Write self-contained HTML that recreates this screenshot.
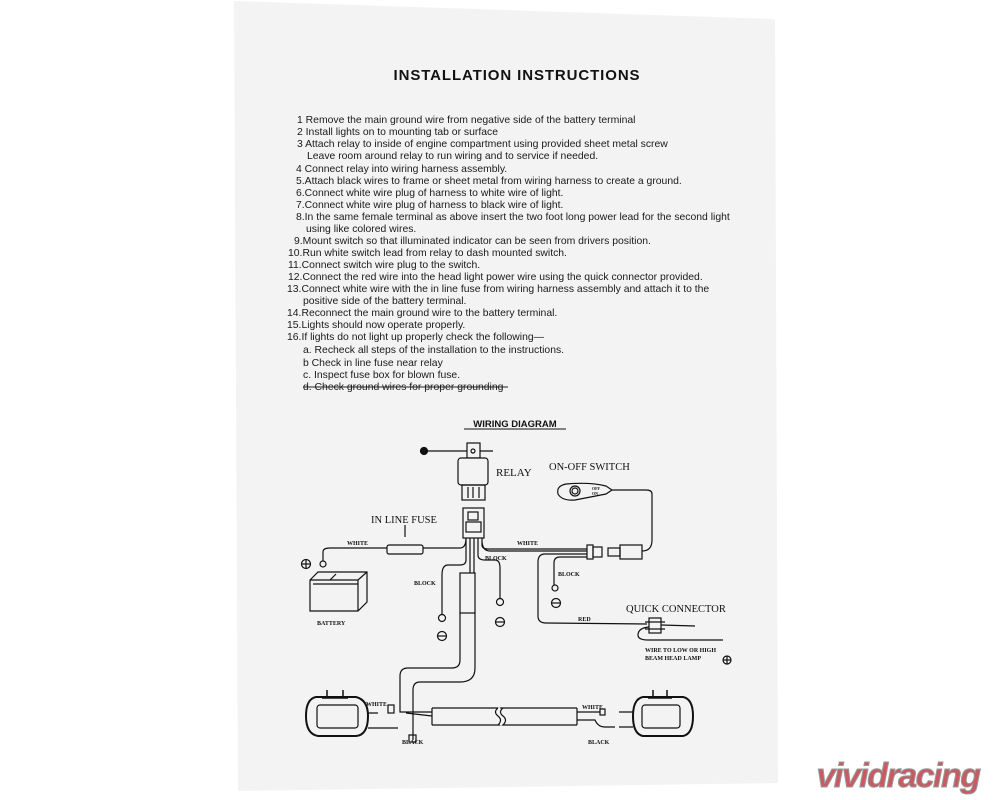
<!DOCTYPE html>
<html><head><meta charset="utf-8"><style>
html,body{margin:0;padding:0;background:#fff;width:1000px;height:800px;overflow:hidden}
svg{display:block}
.t{font-family:"Liberation Sans",Arial,sans-serif;font-size:10.4px;fill:#1a1a1a}
.s{font-family:"Liberation Serif",serif;fill:#111}
.b{font-family:"Liberation Serif",serif;font-weight:bold;font-size:6px;fill:#111}
</style></head><body>
<svg width="1000" height="800" viewBox="0 0 1000 800" xmlns="http://www.w3.org/2000/svg">
<polygon points="234,1 775,19 778,783 238,791" fill="#f3f3f3"/>
<text x="517" y="80" text-anchor="middle" style="font-family:'Liberation Sans',sans-serif;font-weight:bold;font-size:15px;letter-spacing:0.9px;fill:#111">INSTALLATION INSTRUCTIONS</text>
<g class="t">
<text x="297" y="123">1 Remove the main ground wire from negative side of the battery terminal</text>
<text x="297" y="135">2 Install lights on to mounting tab or surface</text>
<text x="297" y="147">3 Attach relay to inside of engine compartment using provided sheet metal screw</text>
<text x="307" y="159">Leave room around relay to run wiring and to service if needed.</text>
<text x="296" y="172">4 Connect relay into wiring harness assembly.</text>
<text x="296" y="184">5.Attach black wires to frame or sheet metal from wiring harness to create a ground.</text>
<text x="296" y="196">6.Connect white wire plug of harness to white wire of light.</text>
<text x="296" y="208">7.Connect white wire plug of harness to black wire of light.</text>
<text x="296" y="220">8.In the same female terminal as above insert the two foot long power lead for the second light</text>
<text x="306" y="232">using like colored wires.</text>
<text x="294" y="244">9.Mount switch so that illuminated indicator can be seen from drivers position.</text>
<text x="288" y="256">10.Run white switch lead from relay to dash mounted switch.</text>
<text x="288" y="268">11.Connect switch wire plug to the switch.</text>
<text x="288" y="280">12.Connect the red wire into the head light power wire using the quick connector provided.</text>
<text x="287" y="292">13.Connect white wire with the in line fuse from wiring harness assembly and attach it to the</text>
<text x="303" y="304">positive side of the battery terminal.</text>
<text x="287" y="316">14.Reconnect the main ground wire to the battery terminal.</text>
<text x="287" y="328">15.Lights should now operate properly.</text>
<text x="287" y="340">16.If lights do not light up properly check the following—</text>
<text x="303" y="353">a. Recheck all steps of the installation to the instructions.</text>
<text x="303" y="366">b  Check in line fuse near relay</text>
<text x="303" y="378">c. Inspect fuse box for blown fuse.</text>
<text x="303" y="390">d. Check ground wires for proper grounding</text>
</g>
<line x1="303" y1="387" x2="508" y2="387" stroke="#222" stroke-width="1"/>
<text x="515" y="427" text-anchor="middle" style="font-family:'Liberation Sans',sans-serif;font-weight:bold;font-size:9.5px;fill:#111">WIRING DIAGRAM</text>
<line x1="464" y1="429" x2="566" y2="429" stroke="#111" stroke-width="1"/>
<g fill="none" stroke="#111" stroke-width="1.2">
<circle cx="424" cy="451" r="3.5" fill="#111"/>
<line x1="427" y1="451" x2="493" y2="451"/>
<rect x="467" y="443" width="13" height="15" fill="#f3f3f3"/>
<circle cx="473" cy="451" r="2"/>
<rect x="458" y="458" width="30" height="27" rx="3" fill="#f3f3f3"/>
<rect x="462" y="485" width="23" height="15"/>
<line x1="468" y1="487" x2="468" y2="498"/><line x1="473" y1="487" x2="473" y2="498"/><line x1="479" y1="487" x2="479" y2="498"/>
<rect x="463" y="508" width="21" height="30"/>
<rect x="468" y="512" width="10" height="8"/>
<rect x="466" y="522" width="15" height="10"/>
<line x1="405" y1="525" x2="405" y2="537"/>
<rect x="387" y="545" width="36" height="9" rx="2"/>
<path d="M323,561 L323,552 Q323,548 330,548 L387,548 M423,548 L460,548 Q466,548 466,538"/>
<circle cx="323" cy="564" r="3"/>
<path d="M310,580 L318,572 L367,572 L367,602 L358,611 L310,611 Z M310,580 L358,580 L367,572 M358,580 L358,611"/>
<path d="M313,584 L358,584 M336,574 L330,580"/>
<path d="M470,538 L470,573 M474,538 L474,573"/>
<rect x="460" y="573" width="15" height="40"/>
<path d="M460,613 L460,660 Q460,668 452,668 L408,668 Q400,668 400,676 L400,697 M475,613 L475,668 Q475,682 460,682 L420,682 Q413,682 413,690 L413,697"/>
<path d="M466,538 L466,560 Q466,565 460,565 L448,565 Q442,565 442,575 L442,614"/>
<circle cx="442" cy="618" r="3.5"/>
<circle cx="442" cy="636" r="4.5"/><line x1="438" y1="636" x2="446" y2="636"/>
<path d="M478,538 L478,555 Q478,560 485,560 L495,560 Q500,560 500,568 L500,598"/>
<circle cx="500" cy="602" r="3.5"/>
<circle cx="500" cy="622" r="4.5"/><line x1="496" y1="622" x2="504" y2="622"/>
<path d="M482,538 L482,545 Q482,549 488,549 L587,549 M482,540 Q482,551 490,551 L587,551"/>
<rect x="587" y="545" width="6" height="14"/><rect x="593" y="547" width="9" height="10"/>
<rect x="608" y="548" width="12" height="8"/><rect x="620" y="545" width="22" height="14"/>
<path d="M642,551 Q652,551 652,540 L652,494 Q652,490 646,490 L612,490"/>
<path d="M566,484 Q556,486 558,494 Q562,501 575,500 L606,494 L612,490 L606,486 Q590,482 566,484 Z"/>
<circle cx="575" cy="491" r="5"/><circle cx="575" cy="491" r="3"/>
<path d="M587,554 L545,554 Q538,554 538,562 L538,616 Q538,623 546,623 L647,624"/>
<path d="M587,557 L560,557 Q554,557 554,563 L554,585"/>
<circle cx="555" cy="588" r="3"/>
<circle cx="556" cy="603" r="4.5"/><line x1="552" y1="603" x2="560" y2="603"/>
<rect x="649" y="618" width="12" height="15"/><line x1="645" y1="622" x2="665" y2="622"/><line x1="645" y1="629" x2="665" y2="629"/>
<path d="M661,625 L695,626 M649,627 Q638,628 638,635 Q638,640 648,640 L723,640"/>
<circle cx="727" cy="660" r="4"/><line x1="723" y1="660" x2="731" y2="660"/><line x1="727" y1="656" x2="727" y2="664"/>
<circle cx="306" cy="564" r="4.5"/><line x1="301" y1="564" x2="311" y2="564"/><line x1="306" y1="559" x2="306" y2="569"/>
<path d="M316,697 L356,697 Q368,700 368,716 Q368,735 356,736 L318,736 Q306,734 306,716 Q306,699 316,697 Z" stroke-width="2"/>
<rect x="317" y="705" width="41" height="23" rx="3"/>
<path d="M327,698 L327,690 M343,698 L343,690 M322,698 L348,698" stroke-width="1.5"/>
<path d="M643,697 L683,697 Q693,699 693,716 Q693,734 683,736 L643,736 Q633,734 633,716 Q633,699 643,697 Z" stroke-width="2"/>
<rect x="642" y="705" width="38" height="23" rx="3"/>
<path d="M653,698 L653,690 M667,698 L667,690 M648,698 L672,698" stroke-width="1.5"/>
<path d="M432,708 L577,708 M432,725 L577,725 M432,708 L432,725 M577,708 L577,725"/>
<path d="M500,708 Q495,712 500,716 Q505,720 500,725" stroke="#f3f3f3" stroke-width="3"/>
<path d="M498,708 Q493,712 498,716 Q503,720 498,725 M503,708 Q498,712 503,716 Q508,720 503,725"/>
<path d="M368,713 L378,713 M368,728 L398,728 M400,697 L400,712 L432,712 M413,697 L413,740 M406,713 L432,716"/>
<rect x="388" y="705" width="6" height="8"/><rect x="409" y="735" width="7" height="7"/>
<path d="M577,712 L600,712 M577,720 L595,720 Q598,727 605,727 L615,727 M619,712 L633,712 M619,727 L633,727"/>
<rect x="600" y="709" width="5" height="6"/>
</g>
<g class="s">
<text x="496" y="476" font-size="11">RELAY</text>
<text x="549" y="470" font-size="10.5">ON-OFF SWITCH</text>
<text x="371" y="523" font-size="10.5">IN LINE FUSE</text>
<text x="626" y="612" font-size="10.5">QUICK CONNECTOR</text>
</g>
<g class="b">
<text x="347" y="545">WHITE</text>
<text x="517" y="545">WHITE</text>
<text x="485" y="560">BLOCK</text>
<text x="414" y="585">BLOCK</text>
<text x="558" y="576">BLOCK</text>
<text x="317" y="625">BATTERY</text>
<text x="578" y="621">RED</text>
<text x="645" y="652">WIRE TO LOW OR HIGH</text>
<text x="645" y="660">BEAM HEAD LAMP</text>
<text x="366" y="706">WHITE</text>
<text x="582" y="709">WHITE</text>
<text x="402" y="744">BLACK</text>
<text x="588" y="744">BLACK</text>
<text x="592" y="490" font-size="4">OFF</text>
<text x="592" y="495" font-size="4">ON</text>
</g>
<text x="898" y="787" text-anchor="middle" style="font-family:'Liberation Sans',sans-serif;font-weight:bold;font-style:italic;font-size:34px;fill:#c85a62;stroke:#999;stroke-width:1;letter-spacing:-1.5px">vividracing</text>
</svg>
</body></html>
